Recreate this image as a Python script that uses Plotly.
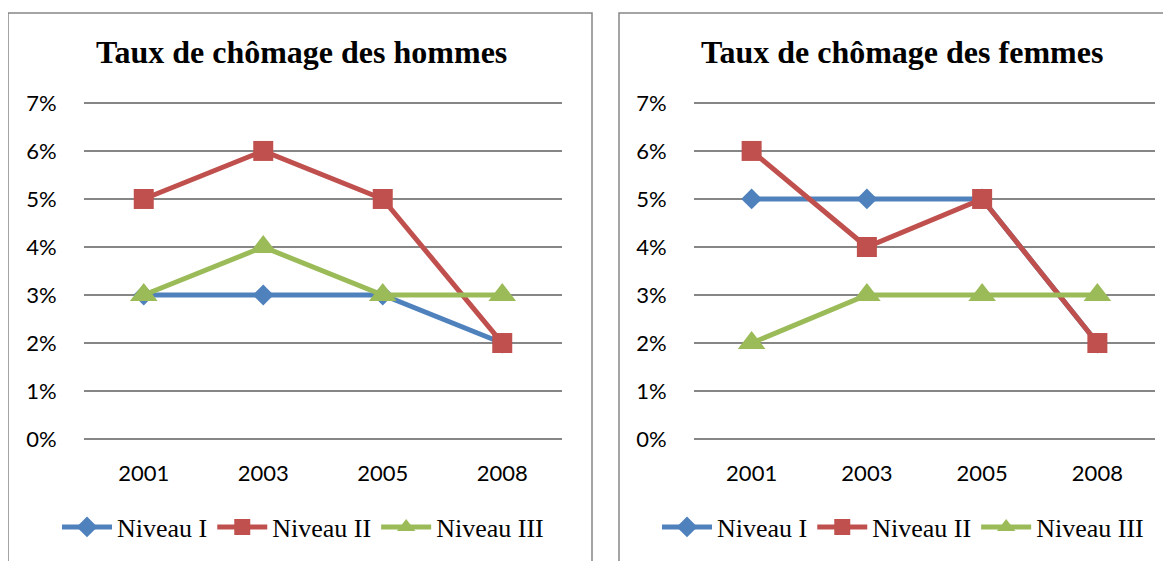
import plotly.graph_objects as go

annees = ["2001", "2003", "2005", "2008"]
niveaux = ["Niveau I", "Niveau II", "Niveau III"]

# taux de chômage (fraction)
hommes = {
    "Niveau I": [0.03, 0.03, 0.03, 0.02],
    "Niveau II": [0.05, 0.06, 0.05, 0.02],
    "Niveau III": [0.03, 0.04, 0.03, 0.03],
}
femmes = {
    "Niveau I": [0.05, 0.05, 0.05, 0.02],
    "Niveau II": [0.06, 0.04, 0.05, 0.02],
    "Niveau III": [0.02, 0.03, 0.03, 0.03],
}

couleurs = {"Niveau I": "#4F81BD", "Niveau II": "#C0504D", "Niveau III": "#9BBB59"}
symboles = {"Niveau I": "diamond", "Niveau II": "square", "Niveau III": "triangle-up"}
tailles = {"Niveau I": 16, "Niveau II": 20, "Niveau III": 24}

W, H = 1171, 561
OFF = 8  # marge du body de la page
SERIF = "Liberation Serif"
SANS = "Lato"
GRID = "#868686"


def px(x):
    return (x - OFF) / W


def py(y):
    return 1 - (y - OFF) / H


fig = go.Figure()

panneaux = [
    (hommes, "x", "y", "legend", "Taux de chômage des hommes"),
    (femmes, "x2", "y2", "legend2", "Taux de chômage des femmes"),
]

for data, xa, ya, leg, _ in panneaux:
    for niv in niveaux:
        fig.add_trace(go.Scatter(
            x=annees, y=data[niv], name=niv,
            mode="lines+markers",
            line=dict(color=couleurs[niv], width=5),
            marker=dict(symbol=symboles[niv], size=tailles[niv], color=couleurs[niv]),
            xaxis=xa, yaxis=ya, legend=leg,
        ))

# domaine élargi de 2 px pour garder les lignes 0 % et 7 %
ydom = [py(441), py(101)]
xaxis_common = dict(
    type="category", range=[-0.5, 3.5], showgrid=False, zeroline=False,
    showline=False, ticks="outside", ticklen=13, tickcolor="rgba(0,0,0,0)",
    tickfont=dict(family=SANS, size=22, color="black"), fixedrange=True,
)
yaxis_common = dict(
    range=[-0.0004, 0.0704], dtick=0.01, tick0=0, tickformat=".0%", showgrid=True,
    gridcolor=GRID, gridwidth=1.5, zeroline=False, showline=False,
    ticks="outside", ticklen=22, tickcolor="rgba(0,0,0,0)",
    tickfont=dict(family=SANS, size=22, color="black"), fixedrange=True,
)

legende = dict(orientation="h", y=py(527), xanchor="center", yanchor="middle",
               font=dict(family=SERIF, size=26, color="black"), itemwidth=50,
               tracegroupgap=0, bgcolor="rgba(0,0,0,0)")

fig.update_layout(
    width=W, height=H,
    margin=dict(l=0, r=0, t=0, b=0, autoexpand=False),
    paper_bgcolor="white", plot_bgcolor="white",
    xaxis=dict(domain=[px(84), px(562)], anchor="y", **xaxis_common),
    yaxis=dict(domain=ydom, anchor="x", **yaxis_common),
    xaxis2=dict(domain=[px(694), px(1155)], anchor="y2", **xaxis_common),
    yaxis2=dict(domain=ydom, anchor="x2", **yaxis_common),
    legend=dict(x=px(303), **legende),
    legend2=dict(x=px(903), **legende),
    showlegend=True,
)

# titres
for cx, (_, _, _, _, titre) in zip([301, 902], panneaux):
    fig.add_annotation(text="<b>" + titre + "</b>", x=px(cx), y=py(52),
                       xref="paper", yref="paper", showarrow=False,
                       xanchor="center", yanchor="middle",
                       font=dict(family=SERIF, size=32, color="black"))

# cadres des graphiques
fig.add_shape(type="rect", xref="paper", yref="paper",
              x0=px(8), x1=px(592), y0=-0.05, y1=py(13),
              line=dict(color=GRID, width=1.5))
fig.add_shape(type="rect", xref="paper", yref="paper",
              x0=px(619), x1=1.05, y0=-0.05, y1=py(13),
              line=dict(color=GRID, width=1.5))

fig.write_html("out.html")
